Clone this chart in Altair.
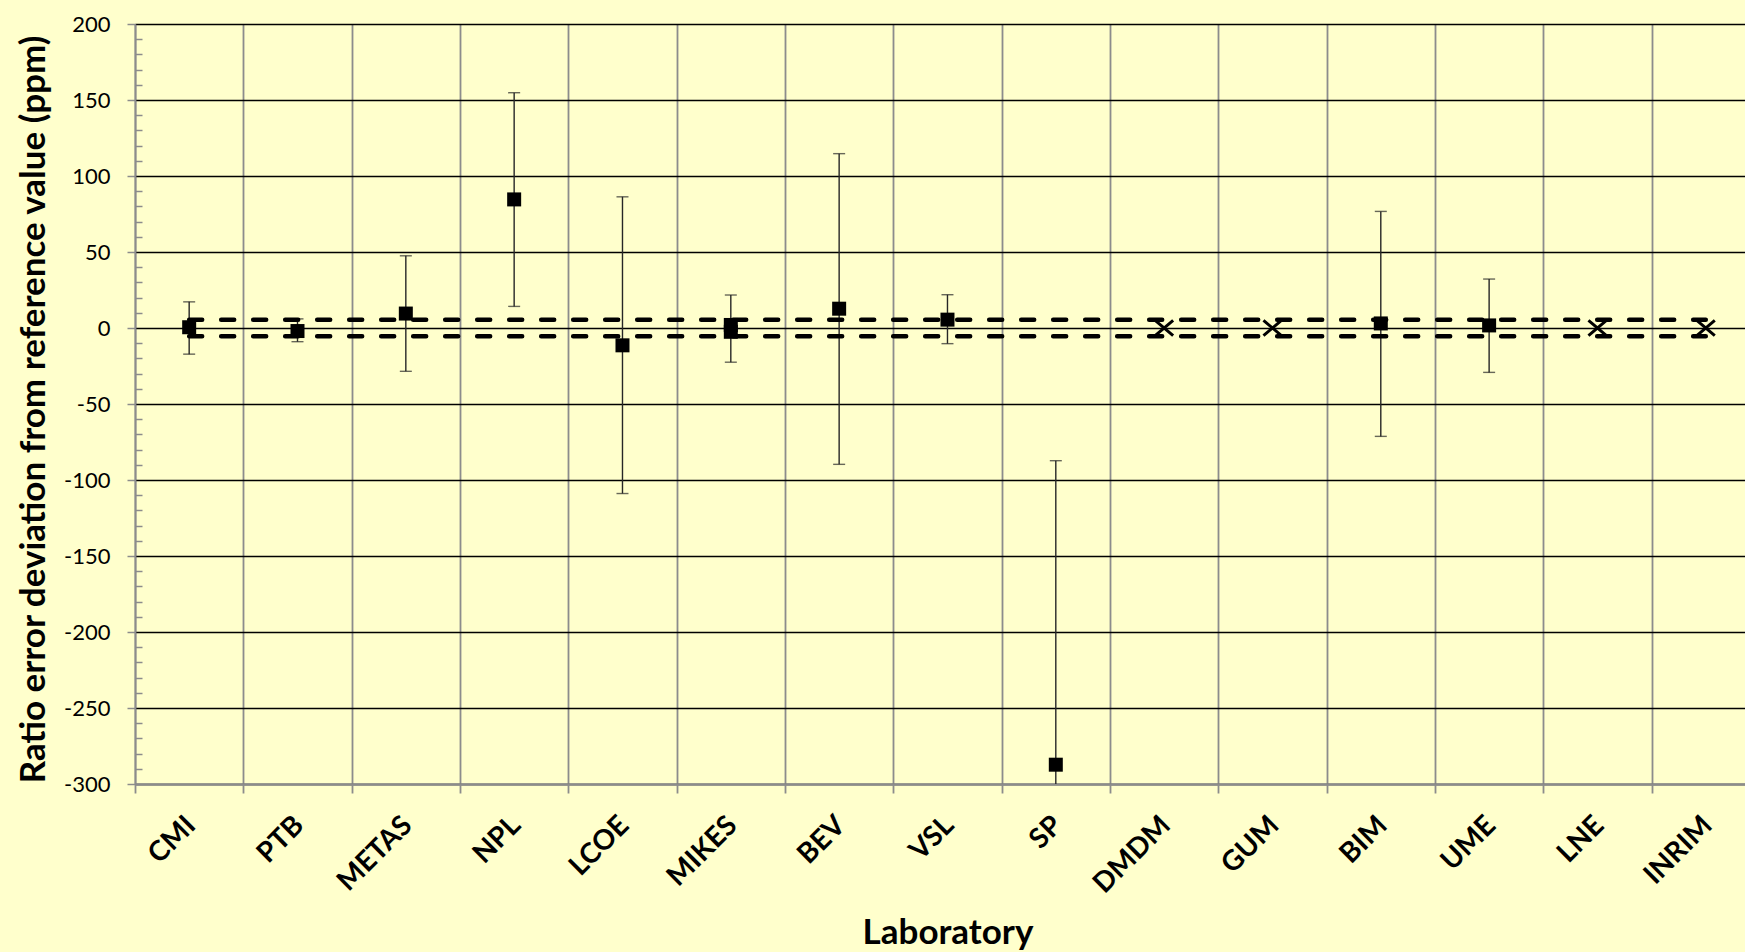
import altair as alt
import pandas as pd

# ---------------- data ----------------
labs = ["CMI", "PTB", "METAS", "NPL", "LCOE", "MIKES", "BEV", "VSL", "SP",
        "DMDM", "GUM", "BIM", "UME", "LNE", "INRIM"]

# square-marker results (ppm)
sq_labs = ["CMI", "PTB", "METAS", "NPL", "LCOE", "MIKES", "MIKES", "BEV",
           "VSL", "SP", "BIM", "UME"]
sq_values = [0.5, -2.0, 9.5, 84.6, -11.4, 2.0, -2.5, 12.7, 5.5, -287.3, 3.0, 1.7]

# error bars (centre and half-width, ppm)
eb_labs = ["CMI", "PTB", "METAS", "NPL", "LCOE", "MIKES", "BEV", "VSL", "SP",
           "BIM", "UME"]
eb_center = [0.0, -1.5, 9.5, 84.5, -11.3, -0.4, 12.5, 5.8, -287.3, 2.7, 1.5]
eb_half = [17.2, 7.5, 38.0, 70.3, 97.6, 22.1, 102.2, 16.1, 200.0, 74.0, 30.7]

# X-marker results (ppm)
x_labs = ["DMDM", "GUM", "LNE", "INRIM"]
x_values = [0.0, 0.0, 0.0, 0.0]

# reference value uncertainty band (ppm)
ref_u = 5.5

y_major = [-300, -250, -200, -150, -100, -50, 0, 50, 100, 150, 200]
y_minor = [v for v in range(-290, 200, 10) if v % 50 != 0]

# ---------------- tables ----------------
pos = {l: i + 0.5 for i, l in enumerate(labs)}

df_sq = pd.DataFrame({"lab": sq_labs, "v": sq_values})
df_sq["x"] = df_sq["lab"].map(pos)

df_eb = pd.DataFrame({"lab": eb_labs, "c": eb_center, "h": eb_half})
df_eb["x"] = df_eb["lab"].map(pos)
df_eb["lo"] = df_eb["c"] - df_eb["h"]
df_eb["hi"] = df_eb["c"] + df_eb["h"]
df_caps = pd.concat([
    pd.DataFrame({"x": df_eb["x"], "v": df_eb["lo"]}),
    pd.DataFrame({"x": df_eb["x"], "v": df_eb["hi"]}),
])

df_x = pd.DataFrame({"lab": x_labs, "v": x_values})
df_x["x"] = df_x["lab"].map(pos)

df_band = pd.concat([
    pd.DataFrame({"x": [pos[l] for l in labs], "v": [ref_u] * len(labs), "side": "upper"}),
    pd.DataFrame({"x": [pos[l] for l in labs], "v": [-ref_u] * len(labs), "side": "lower"}),
])

# ---------------- scales / axes ----------------
CAT_W = 108.33
PLOT_W = 1610
PLOT_H = 760
xscale = alt.Scale(domain=[0, PLOT_W / CAT_W], nice=False, zero=False)
yscale = alt.Scale(domain=[-300, 200], nice=False, zero=False)

FONT = "Lato"
GRAY = "#8c8c8c"
label_expr = "[" + ",".join(f"'{l}'" for l in labs) + "][datum.value]"
X_TITLE = "Laboratory"
Y_TITLE = "Ratio error deviation from reference value (ppm)"

xaxis = alt.Axis(
    values=list(range(len(labs))), labelExpr=label_expr,
    labelOffset=46, labelAngle=-45, labelAlign="right", labelBaseline="top",
    labelPadding=18, labelFont=FONT, labelFontSize=28, labelFontWeight="bold",
    labelColor="black", labelOverlap=False, labelFlush=False, labelBound=False,
    grid=True, gridColor=GRAY, gridWidth=1.8,
    ticks=True, tickColor=GRAY, tickWidth=1.8, tickSize=9,
    domainColor=GRAY, domainWidth=2.5,
    titleFont=FONT, titleFontSize=35, titleFontWeight="bold", titleColor="black",
    titleX=len(labs) * CAT_W / 2, titleY=159, titleAlign="center",
    titleBaseline="alphabetic",
)

yaxis = alt.Axis(
    values=y_major, grid=True, gridColor="black", gridWidth=1.5,
    ticks=True, tickColor=GRAY, tickWidth=1.5, tickSize=8,
    labelPadding=17, labelFont=FONT, labelFontSize=22, labelColor="black",
    labelFlush=False, labelOverlap=False, labelExpr="toString(datum.value)",
    domainColor=GRAY, domainWidth=1.8,
    titleFont=FONT, titleFontSize=35, titleFontWeight="bold", titleColor="black",
    titleX=-102, titleY=PLOT_H / 2 + 5, titleAngle=270, titleAlign="center",
    titleBaseline="middle",
)

yaxis_minor = alt.Axis(
    values=y_minor, orient="left", offset=-7, grid=False, labels=False,
    domain=False, ticks=True, tickColor=GRAY, tickWidth=1.5, tickSize=7,
)

X = alt.X("x:Q", scale=xscale, axis=xaxis, title=X_TITLE)

# ---------------- layers ----------------
bars = alt.Chart(df_eb).mark_rule(color="#262626", strokeWidth=1.4, clip=True).encode(
    x=X,
    y=alt.Y("lo:Q", scale=yscale, axis=yaxis, title=Y_TITLE),
    y2="hi:Q",
)

caps = alt.Chart(df_caps).mark_tick(
    color="#262626", thickness=1.4, size=12, orient="horizontal", clip=True
).encode(
    x=X,
    y=alt.Y("v:Q", scale=yscale, axis=yaxis_minor, title=""),
)

band = alt.Chart(df_band).mark_line(
    color="black", strokeWidth=4.5, strokeDash=[13, 19], strokeCap="round"
).encode(
    x=X,
    y=alt.Y("v:Q", scale=yscale, axis=None),
    detail="side:N",
)

squares = alt.Chart(df_sq).mark_point(
    shape="square", filled=True, size=196, color="black", opacity=1
).encode(
    x=X,
    y=alt.Y("v:Q", scale=yscale, axis=None),
)

crosses = alt.Chart(df_x).mark_point(
    shape="M-1,-0.85L1,0.85M-1,0.85L1,-0.85", filled=False, size=324,
    strokeWidth=3, color="black", opacity=1
).encode(
    x=X,
    y=alt.Y("v:Q", scale=yscale, axis=None),
)

chart = (
    alt.layer(bars, caps, band, squares, crosses)
    .resolve_scale(x="shared", y="shared")
    .resolve_axis(y="independent")
    .properties(
        width=PLOT_W, height=PLOT_H,
        autosize=alt.AutoSizeParams(type="none"),
        padding={"left": 135, "top": 24, "right": 0, "bottom": 168},
        background="#FFFFCC",
    )
    .configure_view(strokeWidth=0)
)

chart.save("out.html", embed_options={"renderer": "svg", "actions": False})
